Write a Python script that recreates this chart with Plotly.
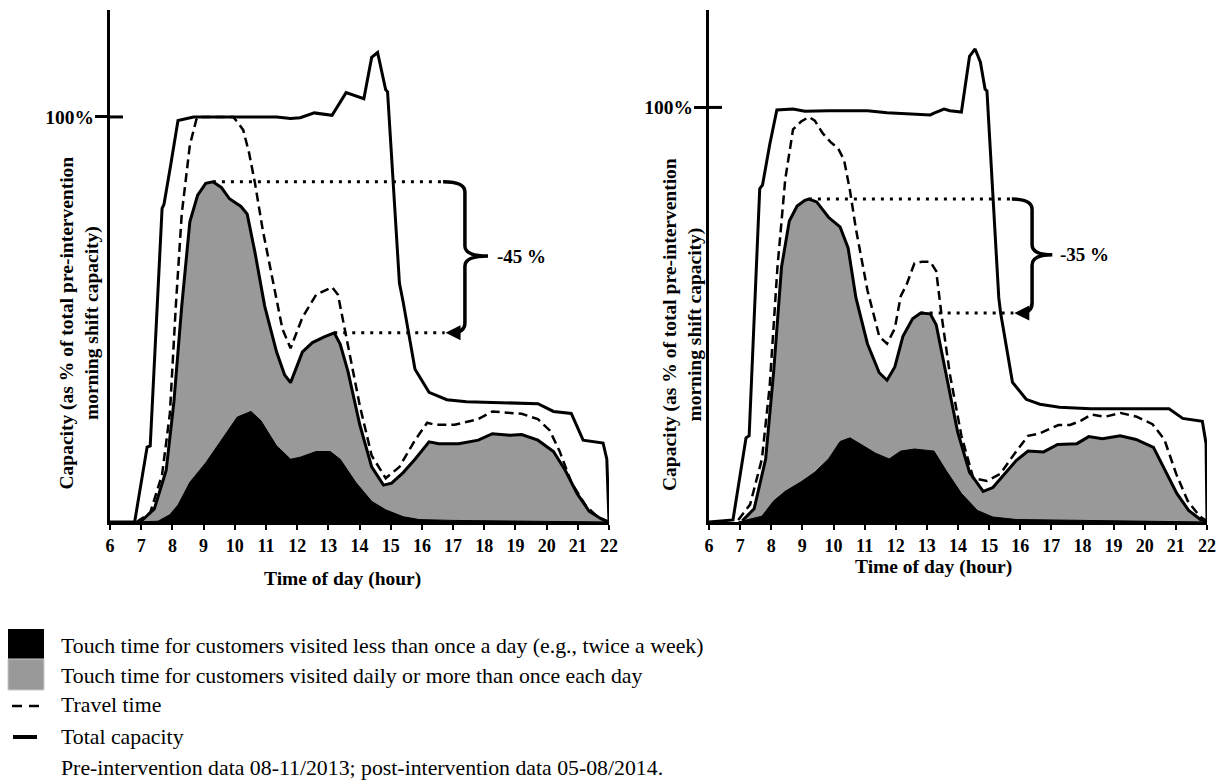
import plotly.graph_objects as go

# ---------------- DATA ----------------
hours = list(range(6, 23))
tick_labels = [str(h) for h in hours]

# Left panel: pre-intervention
pre_total_x = [6, 6.79, 7.19, 7.29, 7.67, 7.73, 7.95, 8.18, 8.68, 11.34, 11.79, 12.1, 12.55, 13.12,
               13.57, 14.14, 14.39, 14.58, 14.84, 14.9, 15.28, 15.4, 15.78, 16.23, 16.8, 17.43,
               19.72, 20.22, 20.79, 21.17, 21.81, 21.93, 22.0]
pre_total_y = [0, 0, 18.5, 18.8, 77.4, 78.4, 88.3, 99.1, 100, 100, 99.6, 99.8, 101, 100.4,
               106, 104.5, 114.7, 115.9, 106.7, 106.2, 59, 54.3, 37.7, 32, 30.2, 29.7,
               29.2, 27.3, 26.8, 20.2, 19.5, 15.5, 0]

pre_travel_x = [6.85, 7.29, 7.67, 7.92, 8.11, 8.3, 8.56, 8.77, 8.87, 9.95, 10.08, 10.27, 10.46,
                10.65, 10.9, 11.22, 11.53, 11.79, 12.17, 12.61, 13.12, 13.31, 13.63, 14.01,
                14.39, 14.84, 15.28, 15.78, 16.17, 16.42, 17.05, 17.81, 18.26, 18.7, 19.2,
                19.72, 20.1, 20.42, 20.79, 21.24, 21.62, 22]
pre_travel_y = [0, 2.3, 11.7, 26.8, 53.3, 76, 93, 99.4, 100, 100, 98.8, 96.8, 91.1,
                83.6, 72, 59.9, 47.6, 42.9, 50.5, 56.1, 58, 56.1, 43.9, 28.7,
                16.4, 10.8, 13.6, 20.2, 24.5, 24, 24, 25.4, 27.3, 27.1, 26.7,
                25.4, 22.6, 17.4, 9.8, 4.2, 1.3, 0]

pre_daily_x = [6.97, 7.42, 7.8, 8.05, 8.3, 8.56, 8.81, 9.07, 9.3, 9.57, 9.83, 10.2, 10.4, 10.65,
               10.96, 11.34, 11.6, 11.79, 12.17, 12.49, 12.87, 13.19, 13.38, 13.63, 14.01,
               14.39, 14.77, 15.03, 15.4, 15.78, 16.23, 16.54, 17.18, 17.81, 18.26, 18.83,
               19.2, 19.72, 20.22, 20.6, 20.98, 21.36, 21.74, 22]
pre_daily_y = [0, 3.2, 12.7, 29.7, 53.3, 74.1, 80.7, 83.6, 84, 82.6, 79.8, 77.9, 76, 66.5,
               53.3, 42, 36.3, 34.4, 42, 44.3, 45.7, 46.7, 43.9, 37.2, 24,
               13.6, 9.1, 9.6, 12.2, 15.5, 19.8, 19.3, 19.3, 20.2, 21.8, 21.4,
               21.6, 20.2, 17.4, 12.7, 7, 2.7, 0.8, 0]

pre_weekly_x = [6.79, 7.54, 7.92, 8.18, 8.56, 9.07, 9.57, 10.08, 10.52, 10.84, 11.34, 11.79,
                12.1, 12.61, 13.06, 13.38, 13.88, 14.39, 14.84, 15.4, 15.91, 16.93, 22]
pre_weekly_y = [0, 0.2, 1.8, 4.2, 9.8, 14.6, 20.2, 25.9, 27.3, 25, 18.8, 15.5,
                16, 17.4, 17.4, 15.5, 9.8, 5.1, 3, 1.3, 0.6, 0.4, 0]

# Right panel: post-intervention
post_total_x = [6, 6.77, 7.19, 7.29, 7.63, 7.72, 7.95, 8.18, 8.7, 9.08, 9.84, 11.09, 11.72,
                12.35, 13.11, 13.23, 13.55, 13.74, 14.11, 14.37, 14.55, 14.72, 14.87, 14.93,
                15.31, 15.37, 15.75, 16.19, 16.63, 17.26, 18.26, 20.78, 21.22, 21.85, 21.97, 22]
post_total_y = [0, 0.5, 20.3, 20.8, 80.4, 81.3, 91, 99.4, 99.6, 99.1, 99.2, 99.2, 98.7,
                98.4, 98.2, 98.6, 99.6, 99.2, 98.9, 112.3, 114.1, 110.9, 104.4, 104,
                54.1, 50.4, 33.7, 29.6, 28.4, 27.7, 27.3, 27.3, 25, 24.3, 18.9, 0]

post_travel_x = [6.94, 7.32, 7.7, 7.95, 8.2, 8.45, 8.7, 8.96, 9.21, 9.4, 9.65, 9.9, 10.15, 10.34,
                 10.53, 10.72, 11.09, 11.47, 11.72, 11.97, 12.16, 12.35, 12.6, 12.86, 13.11,
                 13.3, 13.48, 13.74, 14.11, 14.49, 14.93, 15.36, 15.74, 16.25, 16.6, 17.23,
                 17.6, 17.97, 18.28, 18.73, 19.23, 19.74, 20.25, 20.63, 21.01, 21.38, 21.76, 22]
post_travel_y = [0.5, 4.2, 15.2, 32.8, 61.5, 82.7, 94.7, 96.6, 97.7, 96.8, 93.8, 91.7, 90.1, 87.3,
                 79.9, 70.7, 55.9, 44.8, 43, 46.7, 54.5, 57.3, 62.4, 62.8, 62.8,
                 60.5, 49.4, 35.6, 20.8, 10.6, 9.9, 11.6, 15.7, 20.8, 21.3, 23.4,
                 23.4, 24.5, 25.9, 25.4, 26.3, 25.4, 23.6, 19.9, 11.6, 5.1, 1.4, 0.2]

post_daily_x = [7.07, 7.45, 7.82, 8.08, 8.33, 8.58, 8.83, 9.08, 9.21, 9.46, 9.84, 10.21, 10.47,
                10.72, 11.09, 11.47, 11.72, 11.97, 12.23, 12.54, 12.8, 13.11, 13.3, 13.61,
                13.99, 14.37, 14.81, 15.12, 15.5, 15.87, 16.25, 16.75, 17.2, 17.82, 18.2,
                18.64, 19.21, 19.72, 20.28, 20.66, 21.03, 21.41, 21.79, 22]
post_daily_y = [0.3, 3.2, 15.2, 36.5, 61.5, 72.6, 76.2, 77.6, 77.9, 77.2, 73.5, 71.2, 66.1,
                54.1, 43, 36, 34.2, 37.4, 44.8, 49, 50.4, 50.2, 47.6, 35.6,
                21.7, 12, 7.4, 8.3, 11.6, 14.8, 17.1, 16.9, 18.7, 18.9, 20.6,
                20.1, 20.8, 19.9, 18, 12.5, 6.9, 2.8, 0.6, 0.2]

post_weekly_x = [6.94, 7.7, 8.08, 8.45, 8.96, 9.4, 9.84, 10.21, 10.53, 10.84, 11.35, 11.79,
                 12.16, 12.6, 13.23, 13.61, 14.11, 14.62, 15.12, 15.87, 17.13, 19.9, 22]
post_weekly_y = [0, 1.4, 5.1, 7.4, 9.7, 12, 15.2, 19.4, 20.3, 18.9, 16.6, 15.2,
                 17.1, 17.6, 17.1, 12.5, 6.9, 2.8, 1.2, 0.6, 0.5, 0.3, 0]

reduction_labels = ["-45 %", "-35 %"]

legend_labels = [
    "Touch time for customers visited less than once a day (e.g., twice a week)",
    "Touch time for customers visited daily or more than once each day",
    "Travel time",
    "Total capacity",
    "Pre-intervention data 08-11/2013; post-intervention data 05-08/2014.",
]

# ---------------- STYLE / LAYOUT ----------------
W, H = 1222, 782
SERIF = "Liberation Serif, Times New Roman, serif"
GRAY = "#999999"


def px_x(p):
    return p / W


def px_y(p):
    return (H - p) / H


fig = go.Figure()


def add_panel(xa, ya, tx, ty, trx, tr_y, dx, dy, wx, wy):
    fig.add_trace(go.Scatter(x=dx, y=dy, mode="lines", fill="tozeroy", fillcolor=GRAY,
                             line=dict(color="black", width=3), xaxis=xa, yaxis=ya,
                             showlegend=False, hoverinfo="skip"))
    fig.add_trace(go.Scatter(x=wx, y=wy, mode="lines", fill="tozeroy", fillcolor="black",
                             line=dict(color="black", width=1), xaxis=xa, yaxis=ya,
                             showlegend=False, hoverinfo="skip"))
    fig.add_trace(go.Scatter(x=trx, y=tr_y, mode="lines",
                             line=dict(color="black", width=2.5, dash="9px,5px"),
                             xaxis=xa, yaxis=ya, showlegend=False, hoverinfo="skip"))
    fig.add_trace(go.Scatter(x=tx, y=ty, mode="lines",
                             line=dict(color="black", width=3),
                             xaxis=xa, yaxis=ya, showlegend=False, hoverinfo="skip"))


add_panel("x", "y", pre_total_x, pre_total_y, pre_travel_x, pre_travel_y,
          pre_daily_x, pre_daily_y, pre_weekly_x, pre_weekly_y)
add_panel("x2", "y2", post_total_x, post_total_y, post_travel_x, post_travel_y,
          post_daily_x, post_daily_y, post_weekly_x, post_weekly_y)


def peak_in(xs, ys, lo, hi):
    best = max((y, x) for x, y in zip(xs, ys) if lo <= x <= hi)
    return best[1], best[0]


shapes = []
annotations = []


def add_brace(xa, ya, dx, dy, x_start, x_vert, x_tip, label, label_x):
    px1, py1 = peak_in(dx, dy, 8.5, 10.5)     # morning peak
    px2, py2 = peak_in(dx, dy, 12.3, 13.6)    # midday peak
    ymid = (py1 + py2) / 2 + 0.3
    r = 2.5
    x_end = x_start + 0.25
    # dotted guide lines
    fig.add_trace(go.Scatter(x=[px1, x_start], y=[py1, py1], mode="lines",
                             line=dict(color="black", width=3, dash="3px,6px"),
                             xaxis=xa, yaxis=ya, showlegend=False, hoverinfo="skip"))
    fig.add_trace(go.Scatter(x=[px2, x_start + 0.05], y=[py2, py2], mode="lines",
                             line=dict(color="black", width=3, dash="3px,6px"),
                             xaxis=xa, yaxis=ya, showlegend=False, hoverinfo="skip"))
    path = (f"M {x_start},{py1} Q {x_vert},{py1} {x_vert},{py1 - r} "
            f"L {x_vert},{ymid + r} Q {x_vert},{ymid} {x_tip},{ymid} "
            f"Q {x_vert},{ymid} {x_vert},{ymid - r} "
            f"L {x_vert},{py2 + r} Q {x_vert},{py2} {x_end},{py2}")
    shapes.append(dict(type="path", path=path, xref=xa, yref=ya,
                       line=dict(color="black", width=3.5)))
    annotations.append(dict(x=x_start + 0.08, y=py2, ax=x_end + 0.05, ay=py2,
                            xref=xa, yref=ya, axref=xa, ayref=ya, text="",
                            showarrow=True, arrowhead=2, arrowsize=1, arrowwidth=3,
                            arrowcolor="black"))
    annotations.append(dict(x=label_x, y=ymid, xref=xa, yref=ya, text=label,
                            showarrow=False, xanchor="center", yanchor="middle",
                            font=dict(family=SERIF, size=19, color="black", weight=700)))


add_brace("x", "y", pre_daily_x, pre_daily_y, 16.68, 17.38, 18.12,
          reduction_labels[0], 19.2)
add_brace("x2", "y2", post_daily_x, post_daily_y, 15.73, 16.38, 17.03,
          reduction_labels[1], 18.08)

# 100% tick crossing to the inside
for xa_dom, ya in (("x domain", "y"), ("x2 domain", "y2")):
    shapes.append(dict(type="line", xref=xa_dom, yref=ya, x0=0, x1=13 / 499, y0=100, y1=100,
                       line=dict(color="black", width=3)))

# axis titles (as annotations for exact placement)
ytitle = "Capacity (as % of total pre-intervention<br>morning shift capacity)"
for cx, cy in ((79.5, 323), (682, 325)):
    annotations.append(dict(x=px_x(cx), y=px_y(cy), xref="paper", yref="paper", text=ytitle,
                            showarrow=False, textangle=-90, xanchor="center", yanchor="middle",
                            font=dict(family=SERIF, size=19.5, color="black", weight=700)))
for cx, cy in ((342.5, 579), (933, 567)):
    annotations.append(dict(x=px_x(cx), y=px_y(cy), xref="paper", yref="paper",
                            text="Time of day (hour)", showarrow=False,
                            xanchor="center", yanchor="middle",
                            font=dict(family=SERIF, size=19.5, color="black", weight=700)))

# custom legend block
shapes.append(dict(type="rect", xref="paper", yref="paper", x0=px_x(8), x1=px_x(44),
                   y0=px_y(659), y1=px_y(629), fillcolor="black", line=dict(width=0)))
shapes.append(dict(type="rect", xref="paper", yref="paper", x0=px_x(8), x1=px_x(44),
                   y0=px_y(690), y1=px_y(659), fillcolor=GRAY, line=dict(color="#c8c8c8", width=1)))
shapes.append(dict(type="line", xref="paper", yref="paper", x0=px_x(12), x1=px_x(40),
                   y0=px_y(706), y1=px_y(706), line=dict(color="black", width=2.5, dash="10px,7px")))
shapes.append(dict(type="line", xref="paper", yref="paper", x0=px_x(13), x1=px_x(37),
                   y0=px_y(737), y1=px_y(737), line=dict(color="black", width=4)))
for lbl, cy in zip(legend_labels, (646, 676, 705, 737, 768)):
    annotations.append(dict(x=px_x(59), y=px_y(cy), xref="paper", yref="paper", text=lbl,
                            showarrow=False, xanchor="left", yanchor="middle",
                            font=dict(family=SERIF, size=21.8, color="black")))

x_common = dict(range=[6, 22], tickmode="array", tickvals=hours, ticktext=tick_labels,
                ticks="outside", ticklen=5, tickwidth=2, tickcolor="black",
                showline=True, linewidth=3, linecolor="black", showgrid=False,
                zeroline=False, ticklabelstandoff=0, automargin=False,
                tickfont=dict(family=SERIF, size=18, color="black", weight=700))
y_common = dict(tickmode="array", tickvals=[100], ticktext=["100%"],
                ticks="outside", ticklen=12, tickwidth=3, tickcolor="black",
                showline=True, linewidth=3, linecolor="black", showgrid=False,
                zeroline=False, ticklabelstandoff=-3, automargin=False,
                tickfont=dict(family=SERIF, size=19.5, color="black", weight=700))

y_bottom, y_top = px_y(522), px_y(10)
fig.update_layout(
    width=W, height=H, margin=dict(l=0, r=0, t=0, b=0, autoexpand=False),
    paper_bgcolor="white", plot_bgcolor="white", showlegend=False,
    xaxis=dict(domain=[px_x(110), px_x(609)], anchor="y", **x_common),
    yaxis=dict(domain=[y_bottom, y_top], anchor="x", range=[0, 126.4], **y_common),
    xaxis2=dict(domain=[px_x(709), px_x(1207)], anchor="y2", **x_common),
    yaxis2=dict(domain=[y_bottom, y_top], anchor="x2", range=[0, 123.5], **y_common),
    shapes=shapes, annotations=annotations,
)

fig.write_html(
    "out.html",
    config={"displayModeBar": False},
    post_script="document.body.style.margin='0';document.body.style.overflow='hidden';",
)
